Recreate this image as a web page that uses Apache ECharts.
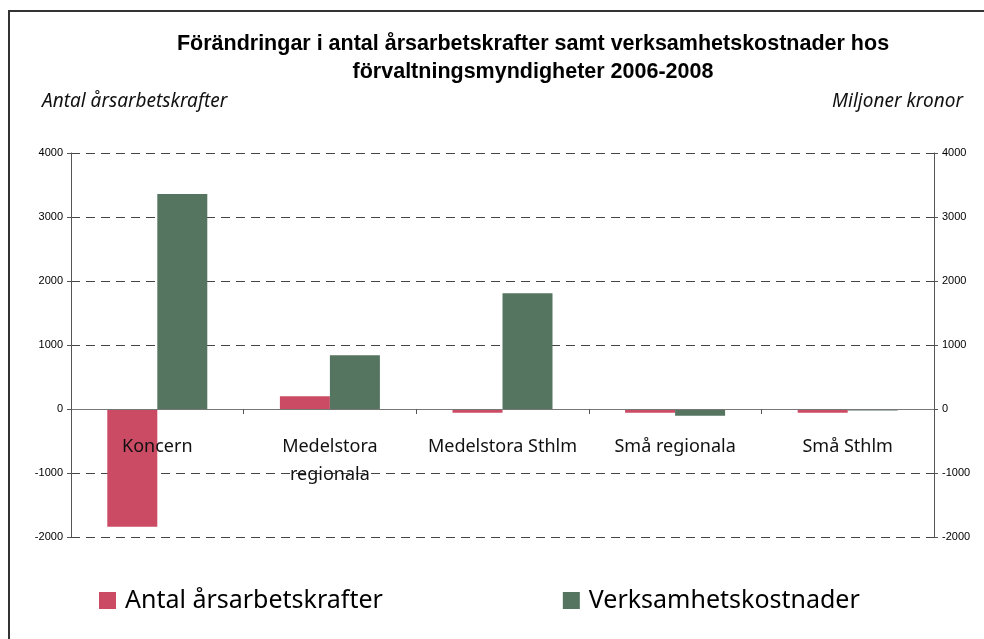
<!DOCTYPE html>
<html>
<head>
<meta charset="utf-8">
<script src="https://cdn.jsdelivr.net/npm/echarts@6/dist/echarts.min.js"></script>
<style>
  html, body { margin: 0; padding: 0; background: #fff; }
  #chart { width: 984px; height: 639px; }
</style>
</head>
<body>
<div id="chart"></div>
<script>
// categories (Excel wrapped the second one)
const categories = ['Koncern', 'Medelstora\nregionala', 'Medelstora Sthlm', 'Små regionala', 'Små Sthlm'];
// change in number of full-time staff (left axis)
const arsarbetskrafter = [-1840, 200, -60, -60, -60];
// change in operating costs, MSEK (right axis)
const kostnader = [3360, 840, 1810, -105, -25];

const seriesNames = ['Antal årsarbetskrafter', 'Verksamhetskostnader'];
const colors = ['#CB4B65', '#567560'];

const chart = echarts.init(document.getElementById('chart'));

const yAxisBase = {
  type: 'value',
  min: -2000,
  max: 4000,
  interval: 1000,
  axisLine: { show: true, lineStyle: { color: '#555', width: 1 } },
  axisTick: { show: true, length: 4, lineStyle: { color: '#555' } },
  axisLabel: { color: '#000', fontSize: 11, fontFamily: 'Arial', margin: 8, formatter: v => String(v) },
  nameLocation: 'end',
  nameGap: 42,
  nameTextStyle: { fontFamily: 'Noto Sans', fontStyle: 'italic', fontSize: 19, color: '#111' }
};

const option = {
  backgroundColor: '#fff',
  animation: false,
  color: colors,
  title: {
    text: 'Förändringar i antal årsarbetskrafter samt verksamhetskostnader hos\nförvaltningsmyndigheter 2006-2008',
    left: 528,
    top: 25,
    textAlign: 'center',
    textStyle: { fontFamily: 'Arial', fontWeight: 'bold', fontSize: 21.5, lineHeight: 28, color: '#000' }
  },
  grid: { left: 71, right: 50, top: 153, bottom: 102, containLabel: false },
  legend: {
    left: 94,
    top: 583,
    icon: 'rect',
    itemWidth: 17,
    itemHeight: 17,
    itemGap: 180,
    textStyle: { fontFamily: 'Noto Sans', fontSize: 25, color: '#000', padding: [0, 0, 0, 4] },
    data: seriesNames
  },
  xAxis: {
    type: 'category',
    data: categories,
    z: 5, // labels and zero line drawn over the bars
    axisLine: { onZero: true, onZeroAxisIndex: 0, lineStyle: { color: '#777', width: 1 } },
    axisTick: { show: true, length: 5, lineStyle: { color: '#555' } },
    // labels sit just under the zero line, as in the original
    axisLabel: { color: '#111', fontFamily: 'Noto Sans', fontSize: 18, lineHeight: 28, margin: -104, interval: 0 }
  },
  yAxis: [
    Object.assign({}, yAxisBase, {
      position: 'left',
      name: 'Antal årsarbetskrafter',
      nameTextStyle: Object.assign({}, yAxisBase.nameTextStyle, { align: 'left', padding: [0, 0, 0, -29] }),
      splitLine: { show: true, lineStyle: { color: '#444', type: [9, 6], width: 1 } }
    }),
    Object.assign({}, yAxisBase, {
      position: 'right',
      name: 'Miljoner kronor',
      nameTextStyle: Object.assign({}, yAxisBase.nameTextStyle, { align: 'right', padding: [0, -29, 0, 0] }),
      splitLine: { show: false }
    })
  ],
  series: [
    { name: seriesNames[0], type: 'bar', yAxisIndex: 0, data: arsarbetskrafter, barWidth: 50, barGap: '0%' },
    { name: seriesNames[1], type: 'bar', yAxisIndex: 1, data: kostnader, barWidth: 50, barGap: '0%' }
  ],
  graphic: [
    // outer chart frame (right and bottom edges fall outside the picture)
    { type: 'rect', shape: { x: 9, y: 11, width: 1100, height: 800 }, style: { fill: 'none', stroke: '#333', lineWidth: 2 }, silent: true }
  ]
};

chart.setOption(option);
</script>
</body>
</html>
